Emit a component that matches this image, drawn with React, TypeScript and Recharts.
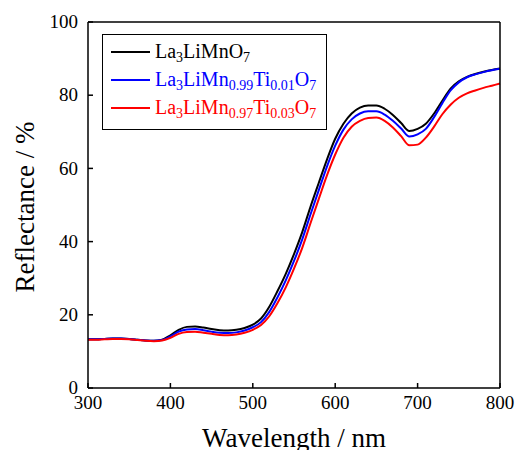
import { LineChart, Line, XAxis, YAxis, Legend, Label } from "recharts";

const wavelength = [
  300, 310, 320, 330, 340, 350, 360, 370, 380, 390, 400, 410, 420, 430, 440, 450, 460, 470, 480, 490,
  500, 510, 520, 530, 540, 550, 560, 570, 580, 590, 600, 610, 620, 630, 640, 650, 660, 670, 680, 690,
  700, 710, 720, 730, 740, 750, 760, 770, 780, 790, 800,
];

const pure = [
  13.3, 13.3, 13.4, 13.5, 13.5, 13.4, 13.2, 13.0, 12.9, 13.2, 14.4, 15.9, 16.7, 16.8, 16.5, 16.1, 15.8, 15.7, 15.9, 16.4,
  17.3, 19.0, 22.2, 26.5, 31.2, 36.6, 42.6, 49.5, 56.0, 62.4, 68.1, 72.2, 75.0, 76.6, 77.2, 77.2, 76.3, 74.6, 72.4, 70.2,
  70.8, 72.2, 75.0, 78.5, 81.8, 83.8, 85.0, 85.8, 86.4, 86.9, 87.3,
];

const ti001 = [
  13.3, 13.3, 13.4, 13.5, 13.5, 13.4, 13.2, 13.0, 12.9, 13.1, 14.1, 15.4, 16.0, 16.1, 15.8, 15.4, 15.1, 15.0, 15.2, 15.7,
  16.6, 18.0, 20.8, 24.8, 29.4, 34.7, 40.6, 47.4, 54.0, 60.5, 66.2, 70.6, 73.4, 75.0, 75.6, 75.6, 74.7, 73.0, 70.9, 68.7,
  69.3, 70.8, 74.0, 77.8, 81.3, 83.5, 84.9, 85.7, 86.3, 86.8, 87.2,
];

const ti003 = [
  13.2, 13.2, 13.3, 13.4, 13.4, 13.3, 13.1, 12.9, 12.8, 13.0, 13.7, 14.8, 15.3, 15.4, 15.1, 14.8, 14.5, 14.4, 14.6, 15.1,
  15.9, 17.2, 19.6, 23.2, 27.5, 32.6, 38.3, 45.0, 51.6, 58.1, 63.8, 68.4, 71.4, 73.0, 73.8, 73.9, 73.0, 71.2, 68.8, 66.3,
  66.5, 68.4, 71.4, 74.8, 77.4, 79.3, 80.5, 81.3, 82.0, 82.6, 83.2,
];

const xTicks = [300, 400, 500, 600, 700, 800];
const yTicks = [0, 20, 40, 60, 80, 100];

// name pieces alternate: normal, subscript, normal, subscript ...
const seriesNames = [
  ["La", "3", "LiMnO", "7"],
  ["La", "3", "LiMn", "0.99", "Ti", "0.01", "O", "7"],
  ["La", "3", "LiMn", "0.97", "Ti", "0.03", "O", "7"],
];
const seriesKeys = ["pure", "ti001", "ti003"];
const seriesColors = ["#000000", "#0000ff", "#ff0000"];

const data = wavelength.map((w, i) => ({
  wavelength: w,
  pure: pure[i],
  ti001: ti001[i],
  ti003: ti003[i],
}));

const FONT = "'Liberation Serif', 'Times New Roman', serif";
const frame = { stroke: "#000", strokeWidth: 1.5 };
const tickText = { fontFamily: FONT, fontSize: 19 };
const titleText = { fontFamily: FONT, fontSize: 27 };

const XTick = ({ x, y, payload }: any) => (
  <g>
    <line x1={x} y1={y} x2={x} y2={y - 5} stroke="#000" strokeWidth={1.5} />
    <text x={x} y={y + 21} textAnchor="middle" style={tickText} fill="#000">
      {payload.value}
    </text>
  </g>
);

const YTick = ({ x, y, payload }: any) => (
  <g>
    <line x1={x} y1={y} x2={x + 5} y2={y} stroke="#000" strokeWidth={1.5} />
    <text x={x - 10} y={y} dy="0.33em" textAnchor="end" style={tickText} fill="#000">
      {payload.value}
    </text>
  </g>
);

const renderLegend = () => (
  <div
    style={{
      width: 225,
      height: 96,
      boxSizing: "border-box",
      border: "1px solid #000",
      background: "#fff",
      paddingTop: 3,
      fontFamily: FONT,
      fontSize: 20,
    }}
  >
    {seriesNames.map((parts, i) => (
      <div key={i} style={{ display: "flex", alignItems: "center", height: 28 }}>
        <span
          style={{
            display: "inline-block",
            width: 39,
            height: 2,
            background: seriesColors[i],
            marginLeft: 8,
            marginRight: 5,
          }}
        />
        <span style={{ color: seriesColors[i], whiteSpace: "nowrap", lineHeight: "20px" }}>
          {parts.map((p, j) =>
            j % 2 === 1 ? (
              <span key={j} style={{ fontSize: 14, position: "relative", top: 4 }}>
                {p}
              </span>
            ) : (
              <span key={j}>{p}</span>
            )
          )}
        </span>
      </div>
    ))}
  </div>
);

export default function App() {
  return (
    <div style={{ position: "absolute", left: 0, top: 0, width: 516, height: 450, background: "#fff", fontFamily: FONT }}>
      <LineChart width={516} height={450} data={data} margin={{ top: 21, right: 15, bottom: 61, left: 87 }}>
        <XAxis
          dataKey="wavelength"
          type="number"
          domain={[300, 800]}
          ticks={xTicks}
          interval={0}
          height={1}
          tickSize={0}
          tickMargin={0}
          tick={<XTick />}
          axisLine={frame}
        >
          <Label
            content={({ viewBox }: any) => (
              <text x={viewBox.x + viewBox.width / 2} y={447} textAnchor="middle" style={titleText} fill="#000">
                Wavelength / nm
              </text>
            )}
          />
        </XAxis>
        <XAxis
          xAxisId="top"
          orientation="top"
          type="number"
          domain={[300, 800]}
          height={1}
          tick={false}
          tickLine={false}
          axisLine={frame}
        />
        <YAxis
          type="number"
          domain={[0, 100]}
          ticks={yTicks}
          interval={0}
          width={1}
          tickSize={0}
          tickMargin={0}
          tick={<YTick />}
          axisLine={frame}
        >
          <Label
            content={({ viewBox }: any) => {
              const cy = viewBox.y + viewBox.height / 2 + 2;
              return (
                <text
                  x={34}
                  y={cy}
                  transform={`rotate(-90, 34, ${cy})`}
                  textAnchor="middle"
                  style={titleText}
                  fill="#000"
                >
                  Reflectance / %
                </text>
              );
            }}
          />
        </YAxis>
        <YAxis
          yAxisId="right"
          orientation="right"
          type="number"
          domain={[0, 100]}
          width={1}
          tick={false}
          tickLine={false}
          axisLine={frame}
        />
        <Legend
          layout="horizontal"
          align="center"
          verticalAlign="middle"
          content={renderLegend}
          wrapperStyle={{ left: 102, top: 34, width: 225, height: 96 }}
        />
        {seriesKeys.map((k, i) => (
          <Line
            key={k}
            dataKey={k}
            type="monotone"
            stroke={seriesColors[i]}
            strokeWidth={2}
            dot={false}
            isAnimationActive={false}
          />
        ))}
      </LineChart>
    </div>
  );
}
